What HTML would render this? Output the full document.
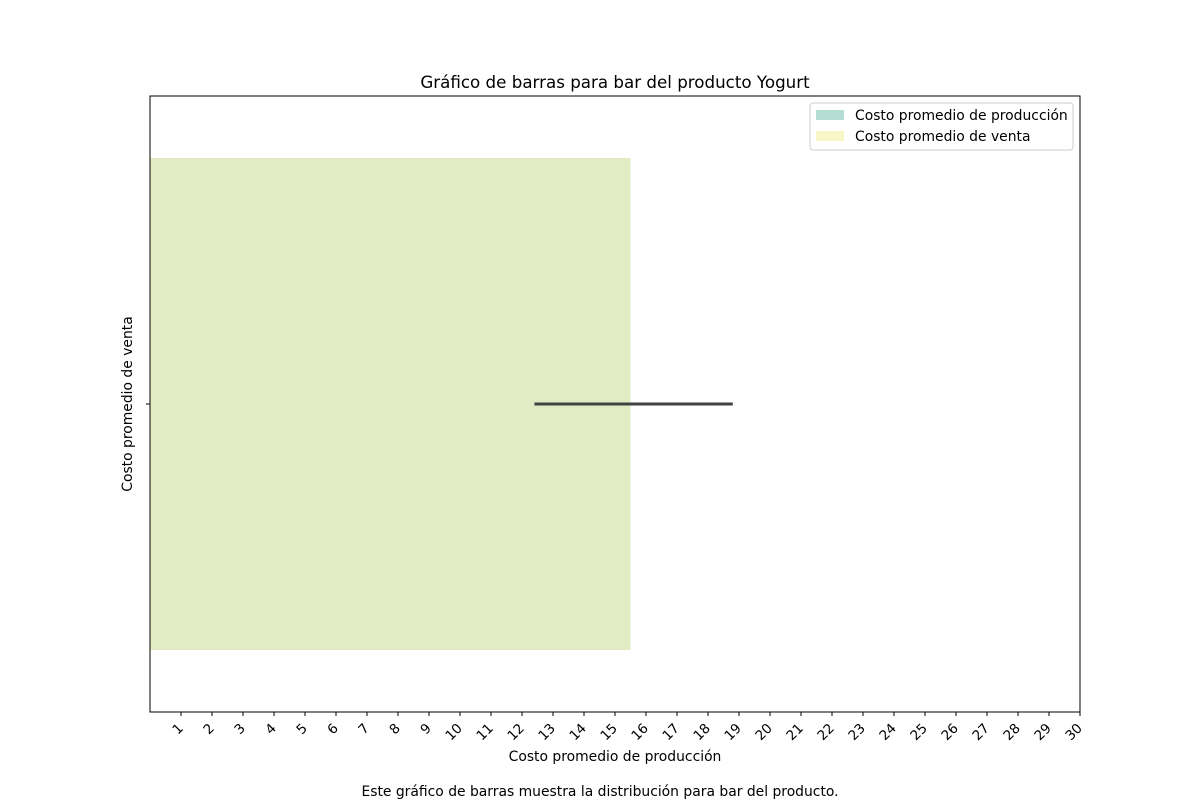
<!DOCTYPE html>
<html><head><meta charset="utf-8"><style>
body{margin:0;background:#fff}
svg{display:block;font-family:"DejaVu Sans","Liberation Sans",sans-serif}
</style></head><body>
<svg id="chart" width="1200" height="800"></svg>
<script>
const ticks=[1,2,3,4,5,6,7,8,9,10,11,12,13,14,15,16,17,18,19,20,21,22,23,24,25,26,27,28,29,30];
const barValues=[15.5];
const errLow=[12.4];
const errHigh=[18.8];
const NS="http://www.w3.org/2000/svg";
const svg=document.getElementById('chart');
const L=150,R=1080,T=96,B=712;
const xs=v=>L+(v/30)*(R-L);
function el(t,a,txt){const e=document.createElementNS(NS,t);for(const k in a)e.setAttribute(k,a[k]);if(txt!=null)e.textContent=txt;svg.appendChild(e);return e;}
const b=el('rect',{x:L,y:158,width:xs(barValues[0])-L,height:492,fill:'#e1ecc4'});


const er=el('line',{x1:xs(errLow[0]),x2:xs(errHigh[0]),y1:404,y2:404,stroke:'#424242','stroke-width':3});


const f=el('rect',{x:L,y:T,width:R-L,height:B-T,fill:'none',stroke:'#000','stroke-width':1});


el('line',{x1:L-4,x2:L,y1:404,y2:404,stroke:'#000'});
ticks.forEach(t=>{
  const x=xs(t);
  el('line',{x1:x,x2:x,y1:B,y2:B+4,stroke:'#000'});
  const lb=el('text',{x:x+3,y:B+17,'font-size':13.5,'text-anchor':'end',transform:`rotate(-45 ${x+3} ${B+17})`},String(t));
  
  
});
const title=el('text',{x:615,y:88,'font-size':16.7,'text-anchor':'middle'},'Gráfico de barras para bar del producto Yogurt');


const xt=el('text',{x:615,y:761,'font-size':13.9,'text-anchor':'middle'},'Costo promedio de producción');


const yt=el('text',{x:132,y:404,'font-size':13.9,'text-anchor':'middle',transform:'rotate(-90 132 404)'},'Costo promedio de venta');


const cap=el('text',{x:600,y:796,'font-size':13.9,'text-anchor':'middle'},'Este gráfico de barras muestra la distribución para bar del producto.');


const lg=el('rect',{x:810,y:103,width:263,height:47,rx:3,fill:'#fff',stroke:'#ccc'});


el('rect',{x:816,y:110,width:28,height:10,fill:'#b3dcd3'});
const l1=el('text',{x:855,y:120,'font-size':13.9},'Costo promedio de producción');


el('rect',{x:816,y:131,width:28,height:10,fill:'#f7f6c6'});
const l2=el('text',{x:855,y:141,'font-size':13.9},'Costo promedio de venta');


</script>
</body></html>
